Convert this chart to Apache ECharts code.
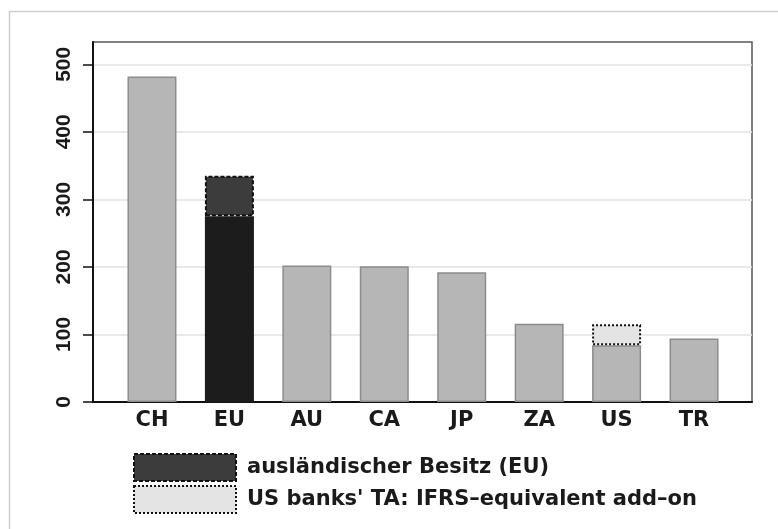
<!DOCTYPE html>
<html>
<head>
<meta charset="utf-8">
<script src="https://cdn.jsdelivr.net/npm/echarts@6/dist/echarts.min.js"></script>
<style>html,body{margin:0;padding:0;background:#fff}#c{width:778px;height:529px}</style>
</head>
<body>
<div id="c"></div>
<script>
var categories = ['CH', 'EU', 'AU', 'CA', 'JP', 'ZA', 'US', 'TR'];
var baseValues = [482, 275, 202, 201, 192, 116, 84, 94];
var euForeign = ['-', 60, '-', '-', '-', '-', '-', '-'];
var usAddOn = ['-', '-', '-', '-', '-', '-', 31, '-'];
var yTicks = [0, 100, 200, 300, 400, 500];
var legendNames = ['ausländischer Besitz (EU)', "US banks' TA: IFRS–equivalent add–on"];

var Y_MAX = 533;
var euStyle = { color: '#3c3c3c', borderColor: '#111', borderWidth: 2, borderType: [4, 2] };
var usStyle = { color: '#e4e4e4', borderColor: '#111', borderWidth: 2, borderType: [2, 2] };

var chart = echarts.init(document.getElementById('c'), null, { renderer: 'canvas' });
var option = {
  animation: false,
  backgroundColor: '#fff',
  graphic: [{
    type: 'rect', left: 7, top: 9, silent: true, z: -10,
    shape: { width: 1000, height: 1000 },
    style: { fill: 'none', stroke: '#cfcfcf', lineWidth: 1.5 }
  }],
  grid: [
    { left: 93, right: 26, top: 42, bottom: 127, show: true, borderColor: '#555', borderWidth: 1.5 },
    { left: 113.25, right: 45.25, top: 42, bottom: 127 }
  ],
  legend: {
    orient: 'vertical', left: 133, top: 453, padding: 0,
    itemWidth: 102, itemHeight: 27, itemGap: 3,
    icon: 'rect',
    data: [
      { name: legendNames[0], icon: 'rect', itemStyle: euStyle },
      { name: legendNames[1], icon: 'rect', itemStyle: usStyle }
    ],
    textStyle: { fontFamily: 'DejaVu Sans', fontWeight: 'bold', fontSize: 21, color: '#1a1a1a', padding: [0, 0, 0, 6] },
    selectedMode: false
  },
  xAxis: [
    {
      gridIndex: 0, type: 'value', min: 0, max: 1,
      axisLine: { show: true, onZero: false, lineStyle: { color: '#111', width: 2 } },
      axisTick: { show: false }, splitLine: { show: false }, axisLabel: { show: false }
    },
    {
      gridIndex: 1, type: 'category', data: categories,
      axisLine: { show: false }, axisTick: { show: false },
      axisLabel: { fontFamily: 'DejaVu Sans', fontWeight: 'bold', fontSize: 21, color: '#1a1a1a', margin: 8 }
    }
  ],
  yAxis: [
    {
      gridIndex: 0, type: 'value', min: 0, max: Y_MAX,
      axisLine: { show: true, onZero: false, lineStyle: { color: '#111', width: 2 } },
      axisTick: { show: true, customValues: yTicks, length: 10, lineStyle: { color: '#111', width: 1.5 } },
      splitLine: { show: true, lineStyle: { color: '#e2e2e2', width: 1.5 } },
      axisLabel: {
        customValues: yTicks, rotate: 90, margin: 18,
        fontFamily: 'Liberation Sans', fontWeight: 'bold', fontSize: 21, color: '#1a1a1a'
      }
    },
    {
      gridIndex: 1, type: 'value', min: 0, max: Y_MAX,
      axisLine: { show: false }, axisTick: { show: false }, splitLine: { show: false }, axisLabel: { show: false }
    }
  ],
  series: [
    {
      name: 'base', type: 'bar', stack: 'a', barWidth: 49, xAxisIndex: 1, yAxisIndex: 1,
      itemStyle: { color: '#b6b6b6', borderColor: '#8c8c8c', borderWidth: 1.5 },
      data: baseValues.map(function (v, i) {
        return categories[i] === 'EU'
          ? { value: v, itemStyle: { color: '#1c1c1c', borderColor: '#1c1c1c' } }
          : v;
      })
    },
    {
      name: legendNames[0], type: 'bar', stack: 'a', barWidth: 49, xAxisIndex: 1, yAxisIndex: 1,
      itemStyle: euStyle,
      data: euForeign
    },
    {
      name: legendNames[1], type: 'bar', stack: 'a', barWidth: 49, xAxisIndex: 1, yAxisIndex: 1,
      itemStyle: usStyle,
      data: usAddOn
    }
  ]
};
chart.setOption(option);
</script>
</body>
</html>
